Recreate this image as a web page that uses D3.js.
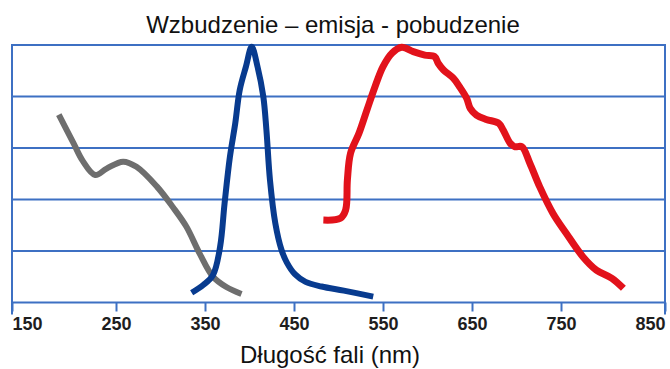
<!DOCTYPE html>
<html>
<head>
<meta charset="utf-8">
<script src="https://cdn.jsdelivr.net/npm/d3@7"></script>
<style>
  body { margin: 0; background: #fff; }
  svg { display: block; }
</style>
</head>
<body>
<div class="graph"></div>
<script>
  // wavelengths (nm) and relative intensity (0-100)
  const excitationNm  = [195, 209, 218, 230, 241, 258, 273, 296, 314, 329, 344, 359, 374, 391];
  const excitationVal = [73, 62, 55, 49.5, 52, 54.7, 52.7, 45, 37, 29.5, 19, 10, 6, 3.3];

  const emissionNm  = [335, 348, 359, 367, 372, 378, 384, 389, 396, 402.5, 409, 415.5, 419, 423, 429, 436, 442, 451, 463, 481, 506, 539];
  const emissionVal = [3.8, 6.8, 10.7, 21.7, 38.5, 56.6, 69.6, 82.5, 91.6, 99.3, 91.6, 80, 67, 47.6, 30.8, 20.4, 15.5, 11, 8, 6.2, 4.6, 2.3];

  const secondNm  = [483, 502, 508, 510, 513.5, 523, 532, 541, 550, 560, 571, 584, 597, 608, 612, 618, 629, 636, 644, 648, 655, 666, 680, 685, 693, 698, 706, 715, 726, 741, 755, 771, 784, 799, 810];
  const secondVal = [32, 32.7, 35.9, 47.6, 57.9, 65.7, 74.8, 83.8, 91.6, 96.8, 99.1, 97.4, 96.1, 95.5, 92.9, 90.3, 87.1, 83.8, 79.3, 75.4, 72.8, 71.1, 69.6, 67, 61.8, 60.5, 60.5, 54.1, 45, 34.6, 26.9, 17.8, 12.6, 9.4, 5.5];

  const xTicks = [150, 250, 350, 450, 550, 650, 750, 850];
  const yGrid = [0, 20, 40, 60, 80, 100];

  const titleText = "Wzbudzenie \u2013 emisja - pobudzenie";
  const xLabelText = "Długość fali (nm)";

  const width = 670, height = 369;
  const plot = { left: 12, right: 665, top: 45, bottom: 302.5 };
  const gridColor = '#3d70c3';

  // the outer intervals of the original axis are wider than the inner ones
  const xScale = d3.scaleLinear()
    .domain([150, 250, 750, 850])
    .range([plot.left, 116, 561, plot.right]);

  const yScale = d3.scaleLinear()
    .domain([0, 100])
    .range([plot.bottom, plot.top]);

  const svg = d3.select('.graph')
    .append('svg')
    .attr('width', width)
    .attr('height', height);

  // horizontal grid
  svg.append('g')
    .selectAll('line')
    .data(yGrid)
    .enter()
    .append('line')
    .attr('x1', plot.left)
    .attr('x2', plot.right)
    .attr('y1', d => yScale(d))
    .attr('y2', d => yScale(d))
    .attr('stroke', gridColor)
    .attr('stroke-width', 2);

  // side frame lines
  svg.append('g')
    .selectAll('line')
    .data([150, 850])
    .enter()
    .append('line')
    .attr('x1', d => xScale(d))
    .attr('x2', d => xScale(d))
    .attr('y1', plot.top - 1)
    .attr('y2', plot.bottom + 12)
    .attr('stroke', gridColor)
    .attr('stroke-width', 2);

  const xAxis = d3.axisBottom(xScale)
    .tickValues(xTicks)
    .tickFormat(d3.format('d'))
    .tickSize(9)
    .tickPadding(6);

  const gx = svg.append('g')
    .attr('class', 'x-axis')
    .attr('transform', `translate(0, ${plot.bottom})`)
    .call(xAxis);

  gx.select('.domain').remove();
  gx.selectAll('.tick line')
    .attr('stroke', gridColor)
    .attr('stroke-width', 2);
  gx.selectAll('.tick text')
    .attr('fill', '#1e1e1e')
    .style('font-family', '"Liberation Sans", Arial, sans-serif')
    .style('font-weight', 'bold')
    .style('font-size', '18px')
    .attr('text-anchor', (d, i) => i == 0 ? 'start' : (i == xTicks.length - 1 ? 'end' : 'middle'));

  const line = d3.line()
    .x(d => xScale(d[0]))
    .y(d => yScale(d[1]))
    .curve(d3.curveCatmullRom.alpha(0.5));

  const series = [
    { nm: excitationNm, val: excitationVal, color: '#6e6e6e', w: 6 },
    { nm: emissionNm, val: emissionVal, color: '#083b8f', w: 6 },
    { nm: secondNm, val: secondVal, color: '#e2121b', w: 7 }
  ];

  svg.append('g')
    .selectAll('path')
    .data(series)
    .enter()
    .append('path')
    .attr('d', s => line(s.nm.map((n, i) => [n, s.val[i]])))
    .attr('fill', 'none')
    .attr('stroke', s => s.color)
    .attr('stroke-width', s => s.w)
    .attr('stroke-linejoin', 'round');

  svg.append('text')
    .attr('x', 333)
    .attr('y', 33)
    .attr('text-anchor', 'middle')
    .style('font-family', '"Liberation Sans", Arial, sans-serif')
    .style('font-size', '24px')
    .attr('fill', '#111')
    .text(titleText);

  svg.append('text')
    .attr('x', 330)
    .attr('y', 363)
    .attr('text-anchor', 'middle')
    .style('font-family', '"Liberation Sans", Arial, sans-serif')
    .style('font-size', '24px')
    .attr('fill', '#111')
    .text(xLabelText);
</script>
</body>
</html>
